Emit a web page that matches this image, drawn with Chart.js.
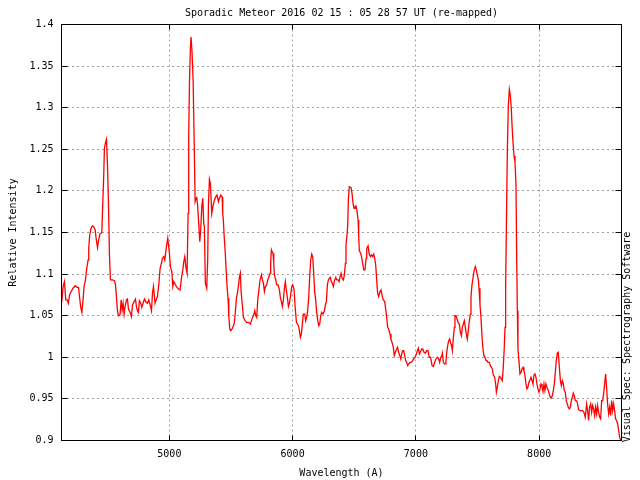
<!DOCTYPE html>
<html><head><meta charset="utf-8">
<script src="https://cdn.jsdelivr.net/npm/chart.js@4.4.1/dist/chart.umd.min.js"></script>
<style>html,body{margin:0;padding:0;background:#fff}#wrap{width:640px;height:480px}</style>
</head><body><div id="wrap"><canvas id="c" width="640" height="480"></canvas></div>
<script>
const titleText = 'Sporadic Meteor 2016 02 15 : 05 28 57 UT (re-mapped)';
const xTitle = 'Wavelength (A)';
const yTitle = 'Relative Intensity';
const sideText = 'Visual Spec: Spectrography Software';
const xTicks = [5000, 6000, 7000, 8000];
const yTicks = [0.9, 0.95, 1.0, 1.05, 1.1, 1.15, 1.2, 1.25, 1.3, 1.35, 1.4];
const xRange = [4125, 8668];
const yRange = [0.9, 1.4];

const wavelengths = [
4127,4138,4149,4160,4171,4181,4190,4203,4219,4236,4252,4263,4271,4281,4290,4300,4308,4319,4330,4341,
4346,4354,4363,4371,4379,4390,4398,4406,4417,4425,4436,4452,4457,4468,4473,4482,4490,4498,4506,4514,
4522,4538,4555,4563,4571,4579,4587,4600,4609,4617,4625,4633,4641,4652,4660,4668,4682,4692,4701,4714,
4725,4733,4741,4749,4757,4768,4776,4787,4798,4811,4822,4833,4844,4855,4863,4871,4884,4892,4903,4914,
4925,4936,4944,4955,4963,4976,4987,4998,5009,5020,5028,5036,5047,5057,5074,5087,5098,5109,5117,5125,
5136,5144,5152,5157,5163,5171,5176,5184,5193,5201,5209,5217,5222,5230,5238,5247,5255,5263,5271,5279,
5284,5292,5303,5311,5317,5325,5333,5344,5355,5366,5376,5387,5398,5406,5417,5428,5433,5438,5444,5452,
5460,5468,5476,5482,5490,5498,5509,5520,5528,5536,5544,5552,5560,5568,5576,5582,5595,5601,5614,5628,
5641,5658,5668,5682,5693,5701,5709,5717,5728,5736,5747,5755,5763,5771,5779,5790,5798,5809,5817,5822,
5828,5833,5841,5847,5852,5863,5871,5882,5893,5901,5909,5917,5925,5933,5941,5949,5958,5966,5974,5982,
5993,6001,6012,6020,6031,6039,6047,6055,6063,6071,6079,6087,6098,6106,6114,6122,6131,6139,6147,6155,
6163,6171,6179,6187,6195,6204,6212,6220,6228,6236,6247,6258,6266,6274,6282,6290,6298,6306,6314,6322,
6331,6339,6350,6358,6368,6377,6385,6393,6401,6412,6420,6428,6433,6441,6447,6452,6460,6474,6482,6490,
6498,6506,6514,6523,6531,6536,6541,6552,6560,6568,6577,6587,6596,6601,6612,6620,6631,6641,6650,6658,
6666,6674,6682,6690,6698,6709,6717,6728,6736,6747,6755,6763,6771,6779,6790,6798,6806,6817,6825,6833,
6844,6852,6860,6869,6877,6885,6893,6901,6909,6917,6925,6934,6942,6952,6963,6974,6982,6993,7004,7012,
7020,7028,7036,7047,7055,7066,7077,7088,7098,7109,7120,7131,7142,7152,7163,7174,7185,7193,7201,7209,
7215,7223,7231,7239,7244,7250,7258,7266,7274,7282,7290,7296,7304,7312,7317,7325,7334,7342,7352,7361,
7369,7377,7385,7393,7401,7409,7417,7425,7434,7442,7447,7455,7461,7469,7474,7482,7490,7498,7507,7512,
7520,7528,7536,7544,7552,7561,7569,7577,7585,7596,7604,7612,7620,7628,7639,7647,7653,7661,7669,7677,
7685,7693,7701,7709,7717,7723,7728,7736,7742,7750,7758,7766,7774,7780,7788,7796,7804,7812,7817,7823,
7828,7836,7844,7853,7861,7869,7877,7885,7893,7901,7909,7917,7926,7934,7942,7950,7958,7966,7974,7982,
7990,7999,8007,8015,8023,8031,8039,8047,8055,8063,8074,8082,8090,8099,8107,8115,8123,8131,8139,8147,
8155,8164,8172,8180,8188,8196,8204,8212,8220,8228,8236,8245,8253,8261,8269,8277,8285,8293,8301,8309,
8320,8331,8342,8353,8363,8374,8385,8393,8401,8409,8418,8426,8434,8442,8450,8458,8466,8474,8482,8491,
8499,8507,8515,8523,8531,8539,8547,8555,8564,8572,8580,8588,8596,8604,8612,8620,8628,8637,8645,8653,
8661
];
const intensities = [
1.066,1.085,1.091,1.069,1.069,1.065,1.075,1.079,1.083,1.086,1.084,1.084,1.073,1.060,1.054,1.069,1.085,1.093,1.107,1.117,
1.131,1.147,1.154,1.157,1.158,1.156,1.153,1.143,1.132,1.140,1.148,1.150,1.173,1.221,1.251,1.258,1.262,1.231,1.185,1.123,
1.093,1.093,1.092,1.087,1.072,1.056,1.050,1.051,1.069,1.057,1.065,1.052,1.061,1.069,1.070,1.058,1.054,1.049,1.063,1.067,
1.070,1.061,1.056,1.054,1.068,1.065,1.060,1.065,1.070,1.066,1.065,1.069,1.063,1.056,1.077,1.085,1.065,1.069,1.073,1.087,
1.107,1.113,1.119,1.121,1.117,1.133,1.143,1.129,1.109,1.103,1.085,1.091,1.088,1.085,1.082,1.081,1.095,1.105,1.115,1.121,
1.107,1.101,1.173,1.265,1.329,1.373,1.385,1.367,1.331,1.263,1.187,1.191,1.193,1.181,1.161,1.139,1.155,1.181,1.191,1.161,
1.157,1.089,1.083,1.117,1.183,1.214,1.209,1.173,1.183,1.189,1.193,1.195,1.187,1.191,1.195,1.193,1.173,1.165,1.147,1.129,
1.107,1.085,1.071,1.050,1.034,1.032,1.034,1.038,1.042,1.056,1.071,1.077,1.085,1.096,1.101,1.079,1.058,1.048,1.044,1.042,
1.042,1.040,1.045,1.050,1.056,1.050,1.048,1.069,1.083,1.093,1.099,1.093,1.089,1.079,1.085,1.087,1.093,1.097,1.101,1.115,
1.129,1.127,1.125,1.113,1.099,1.093,1.087,1.087,1.081,1.071,1.067,1.061,1.069,1.083,1.091,1.081,1.071,1.061,1.065,1.073,
1.085,1.087,1.081,1.061,1.042,1.040,1.038,1.032,1.024,1.028,1.040,1.052,1.052,1.044,1.048,1.056,1.073,1.099,1.117,1.124,
1.121,1.101,1.079,1.069,1.054,1.044,1.038,1.040,1.050,1.054,1.052,1.056,1.063,1.067,1.087,1.093,1.095,1.096,1.091,1.089,
1.085,1.092,1.096,1.093,1.093,1.091,1.097,1.101,1.095,1.093,1.099,1.113,1.135,1.147,1.159,1.189,1.205,1.204,1.197,1.185,
1.179,1.181,1.182,1.175,1.165,1.147,1.128,1.125,1.120,1.113,1.105,1.105,1.119,1.131,1.134,1.125,1.121,1.123,1.121,1.124,
1.119,1.111,1.093,1.077,1.073,1.079,1.081,1.073,1.069,1.067,1.058,1.048,1.036,1.034,1.028,1.021,1.018,1.012,1.002,1.006,
1.010,1.012,1.006,1.002,0.998,1.004,1.008,1.008,1.002,0.996,0.994,0.990,0.992,0.994,0.994,0.996,0.998,1.000,1.004,1.008,
1.011,1.004,1.006,1.010,1.010,1.006,1.005,1.008,1.008,1.000,1.000,0.990,0.989,0.994,0.998,1.000,0.998,0.994,1.000,1.001,
1.005,0.994,0.992,0.992,0.996,1.006,1.014,1.020,1.022,1.017,1.014,1.008,1.024,1.036,1.050,1.050,1.046,1.042,1.040,1.030,
1.026,1.036,1.040,1.044,1.036,1.028,1.022,1.032,1.044,1.052,1.073,1.087,1.093,1.101,1.105,1.109,1.105,1.099,1.093,1.083,
1.063,1.048,1.026,1.010,1.002,1.000,0.996,0.996,0.994,0.994,0.990,0.988,0.986,0.979,0.976,0.968,0.958,0.964,0.972,0.977,
0.976,0.974,0.972,0.988,1.012,1.036,1.083,1.179,1.249,1.303,1.322,1.315,1.299,1.279,1.258,1.242,1.235,1.207,1.129,1.056,
1.010,0.996,0.980,0.982,0.986,0.988,0.984,0.978,0.968,0.962,0.964,0.970,0.973,0.976,0.972,0.968,0.979,0.980,0.976,0.968,
0.962,0.958,0.962,0.968,0.965,0.959,0.968,0.960,0.968,0.964,0.960,0.956,0.952,0.951,0.954,0.960,0.968,0.982,0.996,1.005,
1.006,0.988,0.972,0.966,0.972,0.968,0.960,0.958,0.948,0.944,0.940,0.938,0.940,0.948,0.952,0.957,0.954,0.948,0.948,0.946,
0.937,0.936,0.936,0.936,0.934,0.928,0.944,0.936,0.924,0.940,0.944,0.934,0.942,0.938,0.930,0.940,0.932,0.942,0.934,0.928,
0.926,0.948,0.948,0.956,0.968,0.980,0.964,0.944,0.932,0.940,0.930,0.948,0.936,0.944,0.936,0.926,0.924,0.920,0.912,0.904,
0.900
];

const points = wavelengths.map((w, i) => ({x: w, y: intensities[i]}));
const FONT = {family: 'DejaVu Sans Mono', size: 10};

const framePlugin = {
  id: 'frame',
  afterDatasetsDraw(chart) {
    const {ctx, chartArea: a, scales: {x, y}} = chart;
    ctx.save();
    ctx.strokeStyle = '#000';
    ctx.lineWidth = 1;
    ctx.beginPath();
    xTicks.forEach(v => {
      const px = Math.round(x.getPixelForValue(v) - 0.5) + 0.5;
      ctx.moveTo(px, a.bottom); ctx.lineTo(px, a.bottom - 5);
      ctx.moveTo(px, a.top); ctx.lineTo(px, a.top + 5);
    });
    yTicks.forEach(v => {
      const py = Math.round(y.getPixelForValue(v) - 0.5) + 0.5;
      ctx.moveTo(a.left, py); ctx.lineTo(a.left + 6, py);
      ctx.moveTo(a.right, py); ctx.lineTo(a.right - 6, py);
    });
    ctx.stroke();
    ctx.strokeRect(a.left, a.top, a.right - a.left, a.bottom - a.top);
    ctx.fillStyle = '#000';
    ctx.font = '10px "DejaVu Sans Mono"';
    ctx.textAlign = 'center';
    ctx.textBaseline = 'middle';
    ctx.translate(627.5, 337);
    ctx.rotate(-Math.PI / 2);
    ctx.fillText(sideText, 0, 0);
    ctx.restore();
  }
};

Chart.defaults.font.family = FONT.family;
Chart.defaults.font.size = FONT.size;
Chart.defaults.color = '#000';

new Chart(document.getElementById('c'), {
  type: 'scatter',
  data: {
    datasets: [{
      data: points,
      showLine: true,
      borderColor: '#ff0000',
      backgroundColor: '#ff0000',
      borderWidth: 1.3,
      pointRadius: 0,
      tension: 0,
      fill: false
    }]
  },
  options: {
    responsive: false,
    animation: false,
    layout: {padding: {left: 0, right: 18.5, top: 0, bottom: 0}},
    plugins: {legend: {display: false}, tooltip: {enabled: false}, title: {display: false}},
    scales: {
      x: {
        type: 'linear', position: 'bottom', min: xRange[0], max: xRange[1],
        afterBuildTicks: s => { s.ticks = xTicks.map(v => ({value: v})); },
        afterFit: s => { s.height = 39.5; },
        ticks: {padding: 8, maxRotation: 0, autoSkip: false, callback: v => String(v)},
        grid: {color: '#a0a0a0', lineWidth: 1, drawTicks: false},
        border: {display: false, dash: [2, 3]},
        title: {display: true, text: xTitle, padding: {top: 0, bottom: 1}}
      },
      x2: {
        type: 'linear', position: 'top', min: xRange[0], max: xRange[1],
        afterFit: s => { s.height = 24.5; },
        ticks: {display: false},
        grid: {display: false, drawTicks: false},
        border: {display: false},
        title: {display: true, text: titleText, padding: {top: 7, bottom: 0}}
      },
      y: {
        type: 'linear', position: 'left', min: yRange[0], max: yRange[1],
        afterBuildTicks: s => { s.ticks = yTicks.map(v => ({value: v})); },
        afterFit: s => { s.width = 61.5; },
        ticks: {padding: 8, autoSkip: false, callback: v => String(+v.toFixed(2))},
        grid: {color: '#a0a0a0', lineWidth: 1, drawTicks: false},
        border: {display: false, dash: [2, 3]},
        title: {display: true, text: yTitle, padding: {top: 7, bottom: 0}}
      }
    }
  },
  plugins: [framePlugin]
});
</script>
</body></html>
